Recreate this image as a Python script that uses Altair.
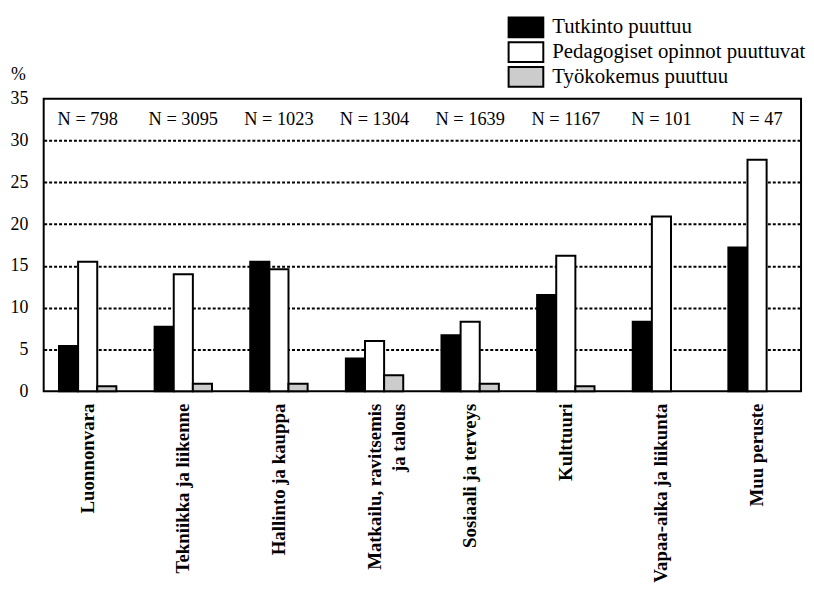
import altair as alt
import pandas as pd

categories = [
    "Luonnonvara",
    "Tekniikka ja liikenne",
    "Hallinto ja kauppa",
    "Matkailu, ravitsemis\nja talous",
    "Sosiaali ja terveys",
    "Kulttuuri",
    "Vapaa-aika ja liikunta",
    "Muu peruste",
]
series = ["Tutkinto puuttuu", "Pedagogiset opinnot puuttuvat", "Työkokemus puuttuu"]
tutkinto = [5.4, 7.7, 15.5, 3.9, 6.7, 11.5, 8.3, 17.2]
pedagogiset = [15.5, 14.0, 14.6, 6.0, 8.3, 16.2, 20.9, 27.7]
tyokokemus = [0.6, 0.9, 0.9, 1.9, 0.9, 0.6, 0.0, 0.0]
n_values = [798, 3095, 1023, 1304, 1639, 1167, 101, 47]
colors = ["#000000", "#ffffff", "#cccccc"]
y_ticks = [0, 5, 10, 15, 20, 25, 30, 35]

rows = []
for i, c in enumerate(categories):
    for s, vals in zip(series, [tutkinto, pedagogiset, tyokokemus]):
        if vals[i] > 0:
            rows.append({"ala": c, "ryhma": s, "osuus": vals[i]})
df = pd.DataFrame(rows)
ndf = pd.DataFrame({"ala": categories, "n": [f"N = {n}" for n in n_values]})

FONT = "Liberation Serif, Times New Roman, serif"

x_enc = alt.X(
    "ala:N",
    sort=categories,
    scale=alt.Scale(paddingInner=0.4, paddingOuter=0.16),
    axis=alt.Axis(
        title=None,
        labelAngle=-90,
        labelExpr="split(datum.label, '\\n')",
        labelFont=FONT,
        labelFontWeight="bold",
        labelFontSize=19,
        labelLineHeight=25,
        labelColor="black",
        labelPadding=12,
        ticks=False,
        domain=False,
        labelLimit=400,
    ),
)

y_enc = alt.Y(
    "osuus:Q",
    scale=alt.Scale(domain=[0, 35], nice=False),
    axis=alt.Axis(
        values=y_ticks,
        title="%",
        titleAngle=0,
        titleX=-26,
        titleY=-24,
        titleAlign="center",
        titleBaseline="middle",
        titleFont=FONT,
        titleFontSize=18,
        titleFontWeight="normal",
        titleColor="black",
        labelFont=FONT,
        labelFontSize=18,
        labelColor="black",
        labelPadding=16,
        ticks=False,
        domain=False,
        grid=True,
        gridColor="black",
        gridDash=[3, 2],
        gridWidth=2,
        gridOpacity={"condition": {"test": "datum.value >= 35 || datum.value <= 0", "value": 0}, "value": 1},
    ),
)

bars = alt.Chart(df).mark_bar(stroke="black", strokeWidth=2).encode(
    x=x_enc,
    xOffset=alt.XOffset("ryhma:N", scale=alt.Scale(domain=series)),
    y=y_enc,
    fill=alt.Fill(
        "ryhma:N",
        scale=alt.Scale(domain=series, range=colors),
        legend=alt.Legend(
            title=None,
            orient="none",
            legendX=475.5,
            legendY=-83,
            symbolType="M-1.75,-1H1.75V1H-1.75Z",
            symbolSize=400,
            symbolStrokeColor="black",
            symbolStrokeWidth=2,
            symbolOpacity=1,
            labelFont=FONT,
            labelFontSize=21,
            labelColor="black",
            labelOffset=15.5,
            labelLimit=400,
            rowPadding=-3.5,
            padding=0,
        ),
    ),
)

ntext = alt.Chart(ndf).mark_text(font=FONT, fontSize=18.5, color="black", baseline="middle").encode(
    x=alt.X("ala:N", sort=categories),
    y=alt.datum(32.6),
    text="n:N",
)

chart = (
    alt.layer(bars, ntext)
    .properties(width=764, height=295, background="white",
                padding={"left": 2, "top": 6, "right": 0, "bottom": 0})
    .configure_view(stroke="black", strokeWidth=2)
)

chart.save("out.html", embed_options={"renderer": "svg", "actions": False})
